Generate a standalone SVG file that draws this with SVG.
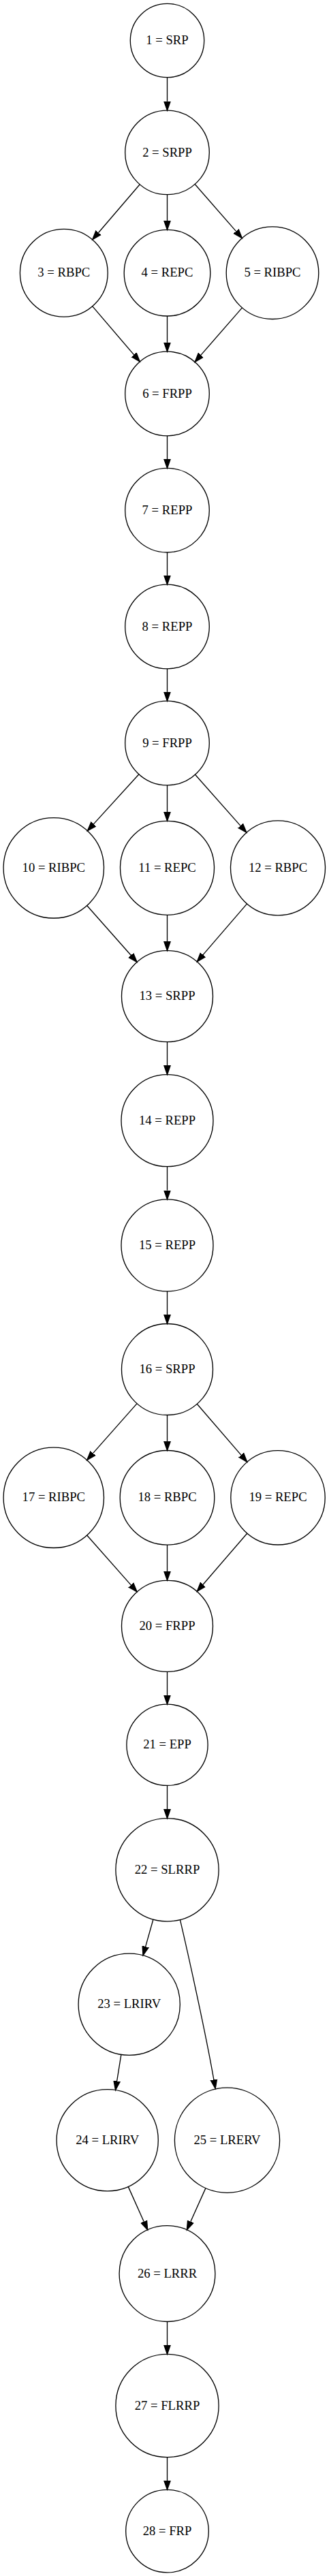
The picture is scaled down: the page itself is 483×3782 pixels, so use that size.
<svg xmlns="http://www.w3.org/2000/svg" width="483" height="3782" viewBox="0 0 483 3782">
<style>
.n ellipse{fill:none;stroke:#000;stroke-width:1.33}
.n text{font-family:"Liberation Serif","Times New Roman",serif;font-size:18.67px;text-anchor:middle;fill:#000}
.e path{fill:none;stroke:#000;stroke-width:1.33;marker-end:url(#ah)}
</style>
<defs>
<marker id="ah" markerUnits="userSpaceOnUse" markerWidth="16" markerHeight="12" viewBox="0 -6 16 12" refX="0" refY="0" orient="auto">
<path d="M0,-4.67 L13.33,0 L0,4.67 Z" fill="#000" stroke="#000" stroke-width="1.33"/>
</marker>
</defs>
<rect x="0" y="0" width="483" height="3782" fill="#fff"/>
<g id="edges" class="e">
<path d="M245.5,113.7 L245.5,148.8"/>
<path d="M205.26,270.8 L144.42,341.71"/>
<path d="M245.5,285.7 L245.5,324.1"/>
<path d="M286.17,270.44 L346.62,339.61"/>
<path d="M135.67,449.63 L196.65,520.91"/>
<path d="M245.5,464 L245.5,502.9"/>
<path d="M355.46,451.82 L294.86,521.36"/>
<path d="M245.5,639.8 L245.5,674.1"/>
<path d="M245.5,811 L245.5,844.9"/>
<path d="M245.5,981.8 L245.5,1015.9"/>
<path d="M203.92,1136.72 L137.36,1209.92"/>
<path d="M245.5,1152.8 L245.5,1192"/>
<path d="M286.5,1137.24 L353.05,1212.32"/>
<path d="M127.64,1329.49 L192.27,1402.54"/>
<path d="M245.5,1343.3 L245.5,1382.4"/>
<path d="M362.61,1326.93 L297.97,1401.88"/>
<path d="M245.5,1529.7 L245.5,1564.4"/>
<path d="M245.5,1712.7 L245.5,1747.6"/>
<path d="M245.5,1895.9 L245.5,1930.2"/>
<path d="M201.09,2060.66 L136.49,2133.64"/>
<path d="M245.5,2077.5 L245.5,2116.2"/>
<path d="M289.27,2061.23 L354.08,2136.32"/>
<path d="M127.63,2254.01 L192.28,2327.12"/>
<path d="M245.5,2268.1 L245.5,2307"/>
<path d="M362.81,2251.21 L297.95,2326.45"/>
<path d="M245.5,2454.3 L245.5,2488.9"/>
<path d="M245.5,2621.4 L245.5,2656.3"/>
<path d="M224.94,2817.95 L213.6,2858.08"/>
<path d="M264.4,2818.4 C276,2868 302,2985 313.9,3053.4"/>
<path d="M177.89,3016.36 L171.62,3055.48"/>
<path d="M188.23,3210.37 L211.24,3261.71"/>
<path d="M301.9,3212.62 L279.82,3261.73"/>
<path d="M245.5,3408.5 L245.5,3443.1"/>
<path d="M245.5,3607.6 L245.5,3642"/>
</g>
<g id="n1" class="n"><ellipse cx="245.5" cy="59.5" rx="54.2" ry="54.2"/><text x="245.5" y="65.1">1 = SRP</text></g>
<g id="n2" class="n"><ellipse cx="245.5" cy="223.9" rx="61.8" ry="61.8"/><text x="245.5" y="229.5">2 = SRPP</text></g>
<g id="n3" class="n"><ellipse cx="93.8" cy="400.7" rx="64.4" ry="64.4"/><text x="93.8" y="406.3">3 = RBPC</text></g>
<g id="n4" class="n"><ellipse cx="245.5" cy="400.7" rx="63.3" ry="63.3"/><text x="245.5" y="406.3">4 = REPC</text></g>
<g id="n5" class="n"><ellipse cx="400" cy="400.7" rx="67.8" ry="67.8"/><text x="400" y="406.3">5 = RIBPC</text></g>
<g id="n6" class="n"><ellipse cx="245.5" cy="578" rx="61.8" ry="61.8"/><text x="245.5" y="583.6">6 = FRPP</text></g>
<g id="n7" class="n"><ellipse cx="245.5" cy="749.2" rx="61.8" ry="61.8"/><text x="245.5" y="754.8">7 = REPP</text></g>
<g id="n8" class="n"><ellipse cx="245.5" cy="920" rx="61.8" ry="61.8"/><text x="245.5" y="925.6">8 = REPP</text></g>
<g id="n9" class="n"><ellipse cx="245.5" cy="1091" rx="61.8" ry="61.8"/><text x="245.5" y="1096.6">9 = FRPP</text></g>
<g id="n10" class="n"><ellipse cx="78.8" cy="1274.3" rx="73.7" ry="73.7"/><text x="78.8" y="1279.9">10 = RIBPC</text></g>
<g id="n11" class="n"><ellipse cx="245.5" cy="1274.3" rx="69" ry="69"/><text x="245.5" y="1279.9">11 = REPC</text></g>
<g id="n12" class="n"><ellipse cx="408" cy="1274.3" rx="69.5" ry="69.5"/><text x="408" y="1279.9">12 = RBPC</text></g>
<g id="n13" class="n"><ellipse cx="245.5" cy="1462.7" rx="67" ry="67"/><text x="245.5" y="1468.3">13 = SRPP</text></g>
<g id="n14" class="n"><ellipse cx="245.5" cy="1645.2" rx="67.5" ry="67.5"/><text x="245.5" y="1650.8">14 = REPP</text></g>
<g id="n15" class="n"><ellipse cx="245.5" cy="1828.4" rx="67.5" ry="67.5"/><text x="245.5" y="1834">15 = REPP</text></g>
<g id="n16" class="n"><ellipse cx="245.5" cy="2010.5" rx="67" ry="67"/><text x="245.5" y="2016.1">16 = SRPP</text></g>
<g id="n17" class="n"><ellipse cx="78.8" cy="2198.8" rx="73.7" ry="73.7"/><text x="78.8" y="2204.4">17 = RIBPC</text></g>
<g id="n18" class="n"><ellipse cx="245.5" cy="2198.8" rx="69.3" ry="69.3"/><text x="245.5" y="2204.4">18 = RBPC</text></g>
<g id="n19" class="n"><ellipse cx="408" cy="2198.8" rx="69.2" ry="69.2"/><text x="408" y="2204.4">19 = REPC</text></g>
<g id="n20" class="n"><ellipse cx="245.5" cy="2387.3" rx="67" ry="67"/><text x="245.5" y="2392.9">20 = FRPP</text></g>
<g id="n21" class="n"><ellipse cx="245.5" cy="2561.8" rx="59.6" ry="59.6"/><text x="245.5" y="2567.4">21 = EPP</text></g>
<g id="n22" class="n"><ellipse cx="245.5" cy="2745.2" rx="75.6" ry="75.6"/><text x="245.5" y="2750.8">22 = SLRRP</text></g>
<g id="n23" class="n"><ellipse cx="189.7" cy="2942.7" rx="74.6" ry="74.6"/><text x="189.7" y="2948.3">23 = LRIRV</text></g>
<g id="n24" class="n"><ellipse cx="157.7" cy="3142.3" rx="74.6" ry="74.6"/><text x="157.7" y="3147.9">24 = LRIRV</text></g>
<g id="n25" class="n"><ellipse cx="333.5" cy="3142.3" rx="77.1" ry="77.1"/><text x="333.5" y="3147.9">25 = LRERV</text></g>
<g id="n26" class="n"><ellipse cx="245.5" cy="3338.1" rx="70.4" ry="70.4"/><text x="245.5" y="3343.7">26 = LRRR</text></g>
<g id="n27" class="n"><ellipse cx="245.5" cy="3532" rx="75.6" ry="75.6"/><text x="245.5" y="3537.6">27 = FLRRP</text></g>
<g id="n28" class="n"><ellipse cx="245.5" cy="3716.1" rx="60.8" ry="60.8"/><text x="245.5" y="3721.7">28 = FRP</text></g>
</svg>
